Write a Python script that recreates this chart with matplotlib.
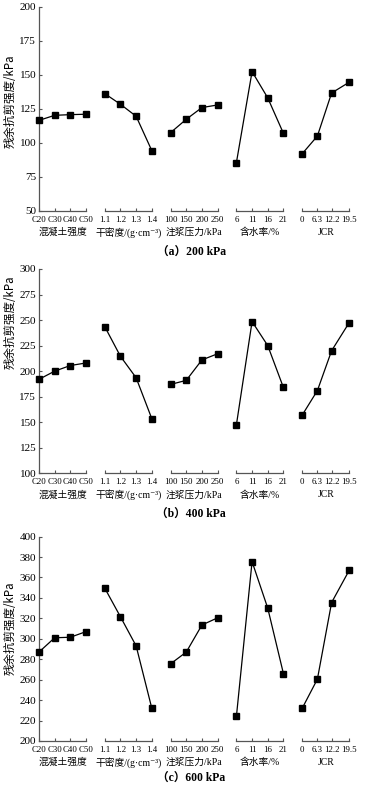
import matplotlib
matplotlib.use('Agg')
import matplotlib.pyplot as plt
import matplotlib.transforms as mtransforms

plt.rcParams['font.family'] = ['Liberation Serif', 'DejaVu Serif']

# factor levels (x) for each of the 5 groups
levels = [
    [20, 30, 40, 50],
    [1.1, 1.2, 1.3, 1.4],
    [100, 150, 200, 250],
    [6, 11, 16, 21],
    [0, 6.3, 12.2, 19.5],
]
level_labels = [
    ['C20', 'C30', 'C40', 'C50'],
    ['1.1', '1.2', '1.3', '1.4'],
    ['100', '150', '200', '250'],
    ['6', '11', '16', '21'],
    ['0', '6.3', '12.2', '19.5'],
]
group_names = ['混凝土强度', '干密度/(g·cm⁻³)', '注浆压力/kPa', '含水率/%', 'JCR']

# residual shear strength, kPa
vals_200 = [
    [116.5, 120.2, 120.7, 121],
    [136.1, 128.3, 119.5, 94.3],
    [107.5, 117.3, 125.9, 127.8],
    [85.5, 152.3, 133, 107],
    [92, 105, 136.6, 144.5],
]
vals_400 = [
    [192, 200, 205.5, 208],
    [243.5, 214.5, 193.5, 153.5],
    [187, 191, 211, 217],
    [147.5, 248.5, 225, 184],
    [157, 181, 220, 247.5],
]
vals_600 = [
    [287, 301, 301.5, 307],
    [349.5, 321.5, 293, 232],
    [275.5, 287, 313.5, 320.5],
    [224, 375.5, 330, 266],
    [232, 260.5, 335.5, 367],
]

panels = [
    (vals_200, (50, 200), 25, '（a）200 kPa', 0.535, -0.2),
    (vals_400, (100, 300), 25, '（b）400 kPa', 0.74, -0.2),
    (vals_600, (200, 400), 20, '（c）600 kPa', 0.55, -0.182),
]
bottoms = [0.7316, 0.3978, 0.0573]

cjk = ['Noto Sans CJK SC', 'DejaVu Sans']
mixed = ['Liberation Serif', 'Noto Sans CJK SC', 'DejaVu Sans']
group_gap = 4.2
span = 3.0
axcol = '#555555'

fig = plt.figure(figsize=(3.7, 7.86), dpi=100)

for (vals, ylim, ystep, caption, ylab_y, cap_y), bot in zip(panels, bottoms):
    ax = fig.add_axes([0.1054, bot, 0.849, 0.26])
    trans = mtransforms.blended_transform_factory(ax.transData, ax.transAxes)
    ticks, tlabels = [], []
    for g in range(5):
        lv = levels[g]
        xs = [g * group_gap + span * (v - lv[0]) / (lv[-1] - lv[0]) for v in lv]
        ax.plot(xs, vals[g], color='black', lw=0.9, marker='s', ms=4,
                clip_on=False, zorder=3)
        ticks += xs
        tlabels += level_labels[g]
        x0 = 0 if g == 0 else xs[0]
        ax.plot([x0, xs[-1]], [0, 0], color=axcol, lw=0.9,
                transform=trans, clip_on=False)
        ax.annotate(group_names[g], xy=((xs[0] + xs[-1]) / 2, 0),
                    xycoords=trans, xytext=(0, -15.5), textcoords='offset points',
                    ha='center', va='center', fontsize=7, family=mixed)
    ax.set_xticks(ticks)
    ax.set_xticklabels(tlabels)
    ax.set_xlim(0, 20.05)
    ax.set_ylim(*ylim)
    ax.set_yticks(range(ylim[0], ylim[1] + 1, ystep))
    for s in ['top', 'right', 'bottom']:
        ax.spines[s].set_visible(False)
    ax.spines['left'].set_color(axcol)
    ax.spines['left'].set_linewidth(0.9)
    ax.tick_params(axis='both', direction='in', length=2.5, width=0.8,
                   color=axcol, pad=2)
    ax.tick_params(axis='y', labelsize=8)
    ax.tick_params(axis='x', pad=3.5, labelsize=6.4)
    ax.set_ylabel('残余抗剪强度/kPa', family=cjk, fontsize=8.3, labelpad=1)
    ax.yaxis.set_label_coords(-0.07, ylab_y)
    ax.text(0.485, cap_y, caption, transform=ax.transAxes, ha='center',
            va='center', fontsize=8.4, weight='bold', family=mixed)

fig.savefig('out.png', dpi=100)
